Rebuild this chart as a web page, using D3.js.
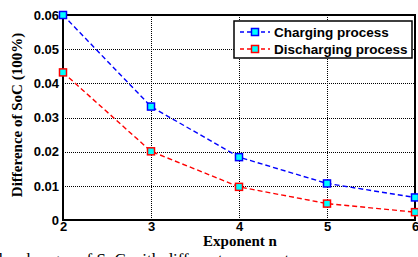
<!DOCTYPE html>
<html lang="en">
<head>
    <meta charset="UTF-8">
    <title>SoC difference</title>
    <script src="https://d3js.org/d3.v7.min.js"></script>
    <style>
        body { margin: 0; background: #fff; }
        svg { display: block; }
        .tick-label { font-family: "Liberation Sans", Arial, sans-serif; font-weight: bold; font-size: 13px; }
        .title { font-family: "Liberation Serif", "Times New Roman", serif; font-weight: bold; font-size: 15px; }
    </style>
</head>
<body>
    <div id="chart"></div>
    <script>
        // values
        var exponents = [2, 3, 4, 5, 6];
        var charging = [0.060, 0.0332, 0.0184, 0.0107, 0.0066];
        var discharging = [0.0432, 0.0201, 0.0097, 0.0048, 0.0023];
        var yTicks = [0, 0.01, 0.02, 0.03, 0.04, 0.05, 0.06];
        var yTickLabels = ["0", "0.01", "0.02", "0.03", "0.04", "0.05", "0.06"];
        var seriesNames = ["Charging process", "Discharging process"];
        var seriesColors = ["#0000ff", "#ff0000"];

        var W = 418, H = 257;
        // plot box (don't call it "top", that's window.top)
        var pL = 63, pR = 415, pT = 15, pB = 220;

        var svg = d3.select("#chart").append("svg").attr("width", W).attr("height", H);

        var x = d3.scaleLinear().domain([2, 6]).range([pL, pR]);
        var y = d3.scaleLinear().domain([0, 0.06]).range([pB, pT]);

        // grid
        var grid = svg.append("g");
        grid.selectAll(".gy").data(yTicks.slice(1, -1)).enter().append("line")
            .attr("x1", pL).attr("x2", pR)
            .attr("y1", d => Math.round(y(d)) + 0.5).attr("y2", d => Math.round(y(d)) + 0.5)
            .attr("stroke", "#000").attr("stroke-dasharray", "1,1").attr("stroke-width", 1);
        grid.selectAll(".gx").data(exponents.slice(1, -1)).enter().append("line")
            .attr("y1", pT).attr("y2", pB)
            .attr("x1", d => Math.round(x(d)) + 0.5).attr("x2", d => Math.round(x(d)) + 0.5)
            .attr("stroke", "#000").attr("stroke-dasharray", "1,1").attr("stroke-width", 1);

        // axes via d3 axis generators, then restyle
        var yAxis = svg.append("g").attr("transform", "translate(" + pL + ",0)")
            .call(d3.axisLeft(y).tickValues(yTicks).tickFormat((d, i) => yTickLabels[i]).tickSize(0).tickPadding(4));
        var xAxis = svg.append("g").attr("transform", "translate(0," + pB + ")")
            .call(d3.axisBottom(x).tickValues(exponents).tickFormat(d3.format("d")).tickSize(0).tickPadding(2));
        [yAxis, xAxis].forEach(g => {
            g.select(".domain").remove();
            g.selectAll("text").attr("class", "tick-label").attr("fill", "#000");
        });

        // frame
        svg.append("rect").attr("x", pL).attr("y", pT)
            .attr("width", pR - pL).attr("height", pB - pT)
            .attr("fill", "none").attr("stroke", "#000").attr("stroke-width", 2);

        // series
        var series = [charging, discharging];
        series.forEach(function (vals, s) {
            var pts = exponents.map((e, i) => [e, vals[i]]);
            svg.append("path").datum(pts)
                .attr("d", d3.line().x(d => x(d[0])).y(d => y(d[1])))
                .attr("fill", "none").attr("stroke", seriesColors[s])
                .attr("stroke-width", 1.4).attr("stroke-dasharray", "5,3");
            svg.selectAll(".m" + s).data(pts).enter().append("rect")
                .attr("x", d => x(d[0]) - 3.5).attr("y", d => y(d[1]) - 3.5)
                .attr("width", 7).attr("height", 7)
                .attr("fill", "#00ffff").attr("stroke", seriesColors[s]).attr("stroke-width", 1.5);
        });

        // legend
        var lg = svg.append("g").attr("transform", "translate(234,21)");
        lg.append("rect").attr("width", 178).attr("height", 37)
            .attr("fill", "#fff").attr("stroke", "#000").attr("stroke-width", 1.5);
        seriesNames.forEach(function (name, i) {
            var cy = 11 + i * 17;
            lg.append("line").attr("x1", 6).attr("x2", 36).attr("y1", cy).attr("y2", cy)
                .attr("stroke", seriesColors[i]).attr("stroke-width", 1.4).attr("stroke-dasharray", "4,3");
            lg.append("rect").attr("x", 21 - 3.5).attr("y", cy - 3.5).attr("width", 7).attr("height", 7)
                .attr("fill", "#00ffff").attr("stroke", seriesColors[i]).attr("stroke-width", 1.5);
            lg.append("text").attr("x", 40).attr("y", cy + 4.5).text(name)
                .attr("font-family", "Liberation Sans, Arial, sans-serif")
                .attr("font-weight", "bold").attr("font-size", "13.5px");
        });

        // axis titles
        svg.append("text").attr("class", "title").attr("text-anchor", "middle")
            .attr("x", 240).attr("y", 246).text("Exponent n");
        svg.append("text").attr("class", "title").attr("text-anchor", "middle")
            .attr("transform", "translate(22,115) rotate(-90)").text("Difference of SoC (100%)");

        // caption fragment cut off at bottom of figure
        svg.append("text").attr("x", -6).attr("y", 265)
            .attr("font-family", "Liberation Serif, Times New Roman, serif").attr("font-size", "17px")
            .text("the changes of SoC with different exponents");
    </script>
</body>
</html>
